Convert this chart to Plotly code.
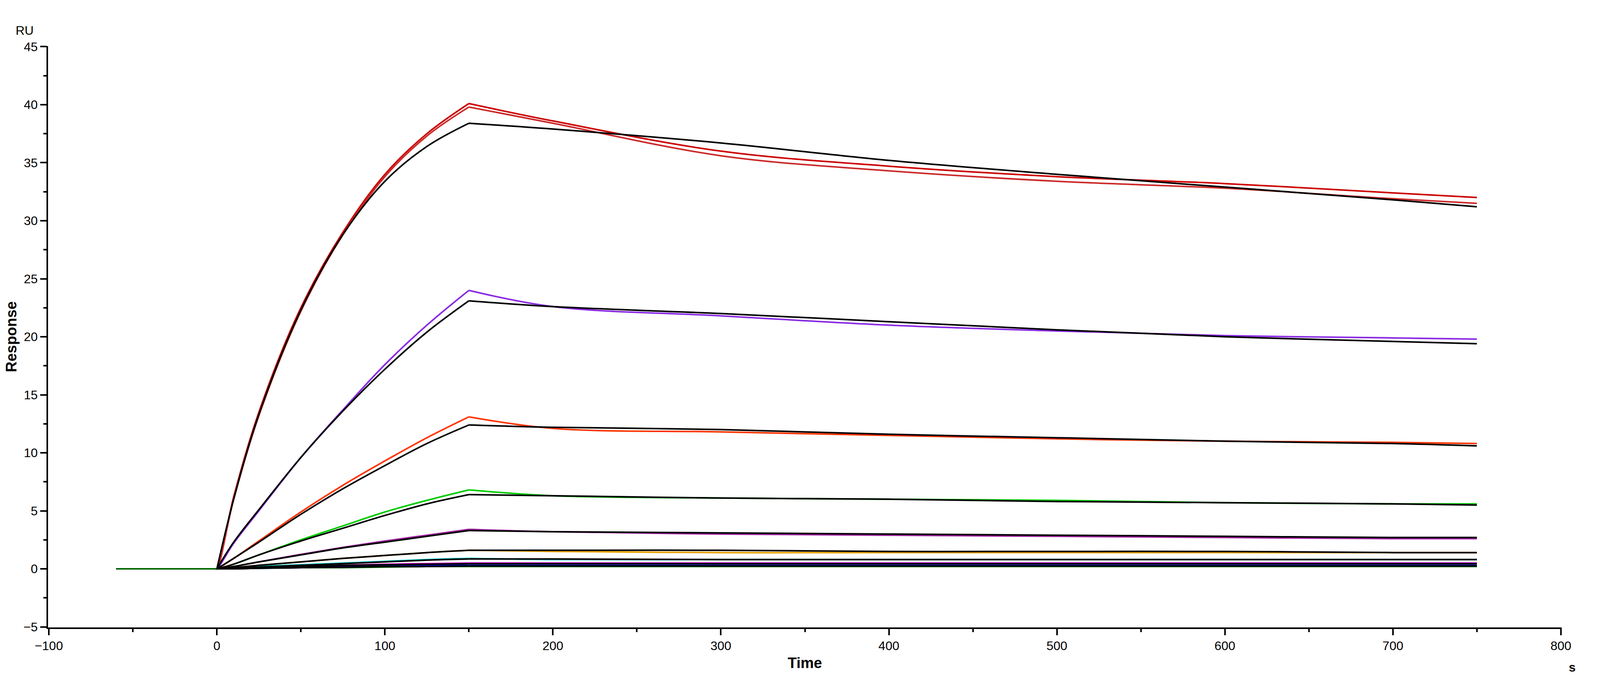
import plotly.graph_objects as go

# sampled times (s) for association and dissociation phases
t_base = [-60, -30, -1]
t_assoc = [0, 10, 25, 50, 75, 100, 125, 150]
t_diss = [150, 200, 300, 400, 500, 600, 700, 750]

x_ticks = [-100, 0, 100, 200, 300, 400, 500, 600, 700, 800]
y_ticks = [-5, 0, 5, 10, 15, 20, 25, 30, 35, 40, 45]

data_colors = ["#cc0000", "#cc2a2a", "#8a2be2", "#ff3300", "#00cc00", "#a020a0",
               "#e6a000", "#00cccc", "#dd00dd", "#0000cc", "#006600"]

# measured responses (RU)
data_assoc = [
    [0, 6.2, 13.5, 22.5, 29.0, 34.0, 37.5, 40.1],
    [0, 6.0, 13.2, 22.2, 28.8, 33.8, 37.3, 39.8],
    [0, 2.2, 5.0, 9.6, 13.7, 17.6, 21.0, 24.0],
    [0, 0.9, 2.4, 4.9, 7.2, 9.3, 11.3, 13.1],
    [0, 0.4, 1.2, 2.5, 3.7, 4.9, 5.9, 6.8],
    [0, 0.2, 0.6, 1.25, 1.85, 2.4, 2.9, 3.4],
    [0, 0.1, 0.3, 0.6, 0.9, 1.15, 1.4, 1.6],
    [0, 0.05, 0.2, 0.35, 0.5, 0.65, 0.8, 0.9],
    [0, 0.05, 0.1, 0.2, 0.3, 0.4, 0.45, 0.5],
    [0, 0.0, 0.05, 0.1, 0.2, 0.25, 0.3, 0.3],
    [0, 0.0, 0.05, 0.1, 0.1, 0.15, 0.2, 0.2],
]
data_diss = [
    [40.1, 38.6, 36.0, 34.7, 33.8, 33.2, 32.4, 32.0],
    [39.8, 38.4, 35.6, 34.3, 33.4, 32.8, 31.9, 31.5],
    [24.0, 22.6, 21.8, 21.0, 20.5, 20.1, 19.9, 19.8],
    [13.1, 12.1, 11.8, 11.5, 11.2, 11.0, 10.9, 10.8],
    [6.8, 6.3, 6.1, 6.0, 5.9, 5.7, 5.6, 5.6],
    [3.4, 3.2, 3.0, 2.9, 2.8, 2.7, 2.6, 2.6],
    [1.6, 1.5, 1.4, 1.4, 1.4, 1.4, 1.4, 1.4],
    [0.9, 0.8, 0.8, 0.8, 0.8, 0.8, 0.8, 0.8],
    [0.5, 0.5, 0.5, 0.5, 0.5, 0.5, 0.5, 0.5],
    [0.3, 0.3, 0.3, 0.3, 0.3, 0.3, 0.3, 0.3],
    [0.2, 0.2, 0.2, 0.2, 0.2, 0.2, 0.2, 0.2],
]

# 1:1 fit curves (RU)
fit_assoc = [
    [0, 6.0, 13.3, 22.3, 28.8, 33.4, 36.4, 38.4],
    [0, 2.3, 5.1, 9.6, 13.6, 17.2, 20.4, 23.1],
    [0, 0.9, 2.3, 4.7, 6.9, 8.9, 10.8, 12.4],
    [0, 0.4, 1.2, 2.4, 3.5, 4.6, 5.6, 6.4],
    [0, 0.2, 0.6, 1.2, 1.8, 2.3, 2.8, 3.3],
    [0, 0.1, 0.3, 0.6, 0.9, 1.15, 1.4, 1.6],
    [0, 0.05, 0.15, 0.3, 0.45, 0.6, 0.75, 0.85],
    [0, 0.05, 0.1, 0.2, 0.3, 0.35, 0.4, 0.45],
    [0, 0.0, 0.05, 0.1, 0.15, 0.2, 0.2, 0.25],
]
fit_diss = [
    [38.4, 37.9, 36.7, 35.2, 34.0, 32.9, 31.8, 31.2],
    [23.1, 22.6, 22.0, 21.3, 20.6, 20.0, 19.6, 19.4],
    [12.4, 12.2, 12.0, 11.6, 11.3, 11.0, 10.8, 10.6],
    [6.4, 6.3, 6.1, 6.0, 5.8, 5.7, 5.6, 5.5],
    [3.3, 3.2, 3.1, 3.0, 2.9, 2.8, 2.7, 2.7],
    [1.6, 1.6, 1.6, 1.5, 1.5, 1.5, 1.4, 1.4],
    [0.85, 0.85, 0.8, 0.8, 0.8, 0.8, 0.8, 0.8],
    [0.45, 0.45, 0.45, 0.45, 0.45, 0.45, 0.45, 0.45],
    [0.25, 0.25, 0.25, 0.25, 0.25, 0.25, 0.25, 0.25],
]

fig = go.Figure()
for c, a, d in zip(data_colors, data_assoc, data_diss):
    fig.add_trace(go.Scatter(x=t_base + t_assoc, y=[0, 0, 0] + a, mode="lines",
                             line_shape="spline", line=dict(color=c, width=4)))
    fig.add_trace(go.Scatter(x=t_diss, y=d, mode="lines", line_shape="spline",
                             line=dict(color=c, width=4)))
for a, d in zip(fit_assoc, fit_diss):
    fig.add_trace(go.Scatter(x=t_assoc, y=a, mode="lines", line_shape="spline",
                             line=dict(color="black", width=4)))
    fig.add_trace(go.Scatter(x=t_diss, y=d, mode="lines", line_shape="spline",
                             line=dict(color="black", width=4)))

axis_font = dict(family="Liberation Sans, Arial", size=32, color="black")
fig.update_layout(
    autosize=True, showlegend=False,
    plot_bgcolor="white", paper_bgcolor="white",
    margin=dict(l=110, r=90, t=110, b=140),
    font=axis_font,
    xaxis=dict(range=[-100.5, 800.5], tickvals=x_ticks, showgrid=False, zeroline=False,
               showline=True, linecolor="black", linewidth=4,
               ticks="outside", ticklen=16, tickwidth=4, tickcolor="black",
               minor=dict(dtick=50, ticks="outside", ticklen=8, tickwidth=4, tickcolor="black"),
               title=dict(text="<b>Time</b>", standoff=14)),
    yaxis=dict(range=[-5.05, 45.05], tickvals=y_ticks, showgrid=False, zeroline=False,
               showline=True, linecolor="black", linewidth=4,
               ticks="outside", ticklen=16, tickwidth=4, tickcolor="black",
               minor=dict(dtick=2.5, ticks="outside", ticklen=8, tickwidth=4, tickcolor="black"),
               title=dict(text="<b>Response</b>", standoff=14)),
    annotations=[
        dict(text="RU", x=-0.022, y=1.04, xref="paper", yref="paper",
             xanchor="left", showarrow=False),
        dict(text="<b>s</b>", x=1.004, y=-0.055, xref="paper", yref="paper",
             xanchor="left", yanchor="top", showarrow=False),
    ],
)

fig.write_html("out.html", default_height="100vh", default_width="100%")
